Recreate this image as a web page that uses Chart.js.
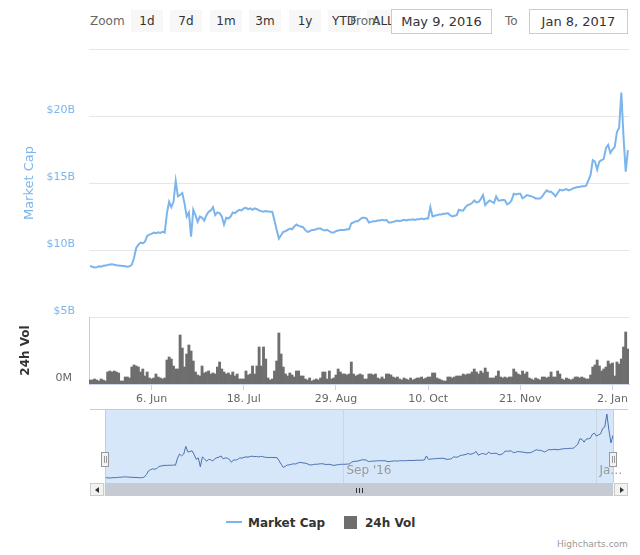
<!DOCTYPE html>
<html>
<head>
<meta charset="utf-8">
<script src="https://cdn.jsdelivr.net/npm/chart.js@4.4.1/dist/chart.umd.min.js"></script>
<style>
  body { margin: 0; background: #fff; font-family: "DejaVu Sans", sans-serif; }
  #wrap { position: relative; width: 640px; height: 555px; overflow: hidden; }
  .abs { position: absolute; }
  .lbl { top: 13px; font-size: 12px; line-height: 16px; color: #666; }
  .btn { top: 10px; width: 32px; height: 22px; line-height: 22px; background: #f7f7f7; color: #333; font-size: 12px; text-align: center; }
  .date { top: 9px; height: 23px; line-height: 23px; border: 1px solid #ccc; background: #fff; color: #333; font-size: 13px; text-align: center; }
  .sbtn { top: 483px; width: 14px; height: 13px; background: #f2f2f2; border: 1px solid #ccc; box-sizing: border-box; }
  .rifle { top: 488px; width: 1px; height: 5px; background: #333; }
  .leg { top: 515px; font-size: 12px; font-weight: bold; color: #333; line-height: 16px; }
</style>
</head>
<body>
<div id="wrap">
  <!-- range selector -->
  <div class="abs lbl" style="left:90px">Zoom</div>
  <div class="abs btn" style="left:131px">1d</div>
  <div class="abs btn" style="left:170px">7d</div>
  <div class="abs btn" style="left:210px">1m</div>
  <div class="abs btn" style="left:249px">3m</div>
  <div class="abs btn" style="left:289px">1y</div>
  <div class="abs btn" style="left:328px">YTD</div>
  <div class="abs btn" style="left:367px">ALL</div>
  <div class="abs lbl" style="left:350px">From</div>
  <div class="abs date" style="left:391px;width:99px">May 9, 2016</div>
  <div class="abs lbl" style="left:505px">To</div>
  <div class="abs date" style="left:529px;width:97px">Jan 8, 2017</div>

  <div class="abs" style="left:0;top:40px;width:640px;height:380px"><canvas id="main" width="640" height="380"></canvas></div>
  <div class="abs" style="left:0;top:405px;width:640px;height:80px"><canvas id="nav" width="640" height="80"></canvas></div>

  <!-- scrollbar -->
  <div class="abs" style="left:90px;top:483px;width:538px;height:13px;background:#f2f2f2"></div>
  <div class="abs" style="left:105px;top:483px;width:508px;height:13px;background:#c6cad2"></div>
  <div class="abs rifle" style="left:356px"></div>
  <div class="abs rifle" style="left:359px"></div>
  <div class="abs rifle" style="left:362px"></div>
  <div class="abs sbtn" style="left:90px"><div class="abs" style="left:4px;top:3px;width:0;height:0;border-top:3px solid transparent;border-bottom:3px solid transparent;border-right:4px solid #333"></div></div>
  <div class="abs sbtn" style="left:614px"><div class="abs" style="left:5px;top:3px;width:0;height:0;border-top:3px solid transparent;border-bottom:3px solid transparent;border-left:4px solid #333"></div></div>

  <!-- legend -->
  <div class="abs" style="left:226px;top:521px;width:16px;height:2px;background:#7cb5ec"></div>
  <div class="abs leg" style="left:248px">Market Cap</div>
  <div class="abs" style="left:344px;top:516px;width:13px;height:13px;background:#6e6e6e"></div>
  <div class="abs leg" style="left:365px">24h Vol</div>
  <div class="abs" style="left:557px;top:539px;font-size:9px;color:#999">Highcharts.com</div>
</div>

<script>
// one value per day, 9 May 2016 .. 9 Jan 2017
const marketCap = [
  8.80, 8.75, 8.70, 8.72, 8.78, 8.76, 8.82, 8.85, 8.88, 8.92,
  8.93, 8.90, 8.86, 8.84, 8.82, 8.80, 8.78, 8.75, 8.78, 8.90,
  9.40, 10.15, 10.40, 10.55, 10.50, 10.62, 11.05, 11.15, 11.20, 11.30,
  11.25, 11.32, 11.28, 11.35, 11.30, 12.75, 13.60, 13.20, 13.60, 15.15,
  14.00, 14.10, 14.25, 13.50, 12.50, 12.80, 11.00, 13.00, 12.60, 12.10,
  12.50, 12.40, 12.20, 12.60, 12.85, 12.95, 13.20, 12.60, 12.80, 12.75,
  12.50, 11.90, 12.40, 12.35, 12.50, 12.80, 12.75, 12.90, 13.00, 12.95,
  13.10, 13.15, 13.05, 13.10, 13.00, 13.10, 13.05, 12.95, 12.90, 12.85,
  12.90, 12.88, 12.85, 12.85, 12.20, 11.50, 10.85, 11.10, 11.35, 11.40,
  11.50, 11.60, 11.55, 11.75, 11.90, 11.80, 11.75, 11.70, 11.50, 11.35,
  11.40, 11.50, 11.50, 11.55, 11.60, 11.60, 11.50, 11.45, 11.50, 11.40,
  11.30, 11.30, 11.40, 11.45, 11.50, 11.50, 11.50, 11.55, 11.55, 12.00,
  12.05, 12.15, 12.15, 12.30, 12.40, 12.40, 12.35, 12.05, 12.10, 12.15,
  12.15, 12.20, 12.20, 12.25, 12.20, 12.25, 12.05, 12.05, 12.10, 12.15,
  12.20, 12.15, 12.20, 12.25, 12.20, 12.25, 12.25, 12.30, 12.25, 12.30,
  12.30, 12.35, 12.30, 12.35, 12.35, 13.20, 12.50, 12.55, 12.60, 12.65,
  12.65, 12.70, 12.70, 12.75, 12.60, 12.50, 12.55, 12.60, 13.00, 12.95,
  12.95, 13.20, 13.35, 13.40, 13.50, 13.70, 13.55, 13.60, 13.80, 14.10,
  13.35, 13.55, 13.70, 13.60, 13.50, 14.00, 13.70, 13.70, 13.75, 13.70,
  13.40, 13.50, 13.70, 14.20, 14.15, 14.20, 14.20, 13.85, 13.95, 14.10,
  14.05, 14.00, 13.95, 13.85, 13.85, 13.85, 14.00, 14.25, 14.45, 14.35,
  14.35, 14.20, 14.00, 14.25, 14.50, 14.45, 14.50, 14.55, 14.45, 14.50,
  14.60, 14.65, 14.70, 14.70, 14.75, 14.75, 14.80, 15.20, 15.60, 16.70,
  16.60, 16.00, 16.60, 16.70, 16.80, 17.60, 17.85, 17.25, 17.50, 17.70,
  18.80, 19.10, 21.75, 18.45, 15.85, 17.45
];

// 24h volume, millions USD
const volume = [
  40, 40, 50, 40, 30, 50, 40, 30, 120, 130,
  120, 130, 120, 110, 30, 30, 70, 70, 60, 170,
  190, 180, 170, 120, 150, 80, 120, 60, 50, 60,
  100, 70, 60, 50, 60, 240, 270, 250, 180, 150,
  150, 490, 360, 170, 300, 390, 330, 230, 120, 90,
  80, 180, 110, 120, 130, 100, 110, 100, 170, 220,
  150, 120, 100, 110, 90, 120, 80, 100, 50, 50,
  50, 130, 90, 100, 180, 100, 180, 370, 180, 370,
  250, 60, 40, 50, 130, 230, 510, 300, 170, 100,
  80, 110, 90, 70, 130, 130, 80, 80, 50, 40,
  60, 30, 40, 50, 40, 60, 120, 120, 50, 130,
  50, 60, 90, 150, 120, 100, 100, 90, 100, 220,
  100, 80, 90, 100, 90, 50, 50, 100, 100, 90,
  100, 60, 50, 70, 50, 100, 100, 90, 70, 60,
  70, 50, 40, 60, 50, 40, 60, 40, 50, 60,
  60, 70, 50, 60, 70, 70, 110, 110, 60, 50,
  40, 30, 30, 70, 70, 60, 70, 80, 80, 80,
  100, 90, 100, 100, 120, 150, 120, 100, 130, 110,
  160, 120, 60, 60, 60, 80, 130, 70, 60, 70,
  60, 70, 70, 150, 120, 100, 90, 130, 100, 120,
  60, 50, 40, 60, 50, 40, 70, 70, 60, 70,
  120, 70, 70, 130, 100, 50, 40, 60, 50, 40,
  50, 70, 70, 60, 70, 60, 50, 50, 90, 170,
  190, 240, 180, 130, 150, 170, 230, 200, 210, 80,
  220, 200, 250, 370, 520, 350
];

const tickDays = [28, 70, 112, 154, 196, 238];
const tickLabels = ["6. Jun", "18. Jul", "29. Aug", "10. Oct", "21. Nov", "2. Jan"];
const navTickDays = [115, 237];
const navTickLabels = ["Sep '16", "Ja\u2026"];

Chart.defaults.font.family = '"DejaVu Sans", sans-serif';
Chart.defaults.animation = false;

const lastDay = marketCap.length - 1;

new Chart(document.getElementById('main'), {
  type: 'line',
  data: {
    datasets: [
      {
        type: 'line',
        label: 'Market Cap',
        yAxisID: 'yMain',
        data: marketCap.map((v, i) => ({ x: i, y: v })),
        borderColor: '#7cb5ec',
        borderWidth: 2,
        pointRadius: 0,
        tension: 0,
        order: 1
      },
      {
        type: 'bar',
        label: '24h Vol',
        yAxisID: 'yVol',
        data: volume.map((v, i) => ({ x: i, y: v })),
        backgroundColor: '#6e6e6e',
        borderWidth: 0,
        barPercentage: 1,
        categoryPercentage: 1,
        order: 2
      }
    ]
  },
  options: {
    responsive: false,
    layout: { padding: { top: 9, right: 11, bottom: 6, left: 0 } },
    plugins: { legend: { display: false }, tooltip: { enabled: false } },
    scales: {
      x: {
        type: 'linear',
        offset: false,
        min: -0.5,
        max: lastDay + 0.5,
        afterBuildTicks: s => { s.ticks = tickDays.map(v => ({ value: v })); },
        ticks: {
          callback: v => tickLabels[tickDays.indexOf(v)],
          color: '#666', font: { size: 11 }, padding: 3,
          maxRotation: 0, autoSkip: false
        },
        grid: { drawOnChartArea: false, offset: false, tickLength: 6, color: '#ccd6eb' },
        border: { color: '#ccd6eb' },
        afterFit: s => { s.height = 30; s.paddingLeft = 0; s.paddingRight = 0; }
      },
      yVol: {
        type: 'linear',
        position: 'left',
        stack: 'pane',
        stackWeight: 67,
        weight: 0,
        min: 0,
        max: 670,
        afterBuildTicks: s => { s.ticks = [{ value: 0 }]; },
        ticks: { callback: () => '0M', color: '#666', font: { size: 11 }, labelOffset: -6, padding: 17 },
        grid: { display: false, drawTicks: false },
        border: { display: true, color: '#ccc' },
        title: { display: true, text: '24h Vol', color: '#333', font: { size: 12, weight: 'bold' }, padding: { top: 19, bottom: 0 } },
        afterFit: s => { s.width = 89; s.paddingTop = 0; s.paddingBottom = 0; }
      },
      yMain: {
        type: 'linear',
        position: 'left',
        stack: 'pane',
        stackWeight: 268,
        weight: 1,
        min: 5,
        max: 25,
        ticks: {
          stepSize: 5,
          callback: v => v === 25 ? '' : '$' + v + 'B',
          color: '#7cb5ec', font: { size: 11 }, labelOffset: -6, padding: 14
        },
        grid: { color: '#e6e6e6', drawTicks: false },
        border: { display: false },
        title: { display: true, text: 'Market Cap', color: '#7cb5ec', font: { size: 13 }, padding: { top: 22, bottom: 0 } },
        afterFit: s => { s.width = 89; s.paddingTop = 0; s.paddingBottom = 0; }
      }
    }
  }
});

// navigator
const navDecor = {
  id: 'navDecor',
  beforeDatasetsDraw(chart) {
    const { ctx, chartArea: a, scales: { x } } = chart;
    const x0 = x.getPixelForValue(0), x1 = x.getPixelForValue(lastDay);
    ctx.save();
    ctx.fillStyle = 'rgba(124,181,236,0.32)';
    ctx.fillRect(x0, a.top, x1 - x0, a.bottom - a.top);
    ctx.strokeStyle = 'rgba(200,200,200,0.6)';
    ctx.lineWidth = 1;
    navTickDays.forEach(d => {
      const px = Math.round(x.getPixelForValue(d)) + 0.5;
      ctx.beginPath(); ctx.moveTo(px, a.top); ctx.lineTo(px, a.bottom); ctx.stroke();
    });
    ctx.restore();
  },
  afterDatasetsDraw(chart) {
    const { ctx, chartArea: a, scales: { x } } = chart;
    ctx.save();
    ctx.fillStyle = '#999';
    ctx.font = '12px "DejaVu Sans", sans-serif';
    ctx.textBaseline = 'middle';
    navTickDays.forEach((d, i) => {
      ctx.fillText(navTickLabels[i], x.getPixelForValue(d) + 3, a.bottom - 12);
    });
    ctx.strokeStyle = '#ccc';
    ctx.lineWidth = 1;
    ctx.beginPath(); ctx.moveTo(a.left, a.top + 0.5); ctx.lineTo(a.right, a.top + 0.5); ctx.stroke();
    [0, lastDay].forEach(d => {
      const px = Math.round(x.getPixelForValue(d));
      ctx.strokeStyle = '#ccc';
      ctx.beginPath(); ctx.moveTo(px + 0.5, a.top); ctx.lineTo(px + 0.5, a.bottom); ctx.stroke();
      ctx.fillStyle = '#f2f2f2';
      ctx.strokeStyle = '#999';
      ctx.fillRect(px - 4, a.top + 43, 8, 15);
      ctx.strokeRect(px - 3.5, a.top + 43.5, 7, 14);
      ctx.beginPath();
      ctx.moveTo(px - 0.5, a.top + 47); ctx.lineTo(px - 0.5, a.top + 54);
      ctx.moveTo(px + 1.5, a.top + 47); ctx.lineTo(px + 1.5, a.top + 54);
      ctx.stroke();
    });
    ctx.restore();
  }
};

new Chart(document.getElementById('nav'), {
  type: 'line',
  data: {
    datasets: [{
      data: marketCap.map((v, i) => ({ x: i, y: v })),
      borderColor: '#4b6fae',
      borderWidth: 1,
      pointRadius: 0,
      tension: 0
    }]
  },
  options: {
    responsive: false,
    layout: { padding: { top: 4, right: 12, bottom: 2, left: 90 } },
    plugins: { legend: { display: false }, tooltip: { enabled: false } },
    scales: {
      x: { type: 'linear', min: -7.2, max: 252.2, display: false },
      y: { min: 7.68, max: 22.77, display: false }
    }
  },
  plugins: [navDecor]
});
</script>
</body>
</html>
